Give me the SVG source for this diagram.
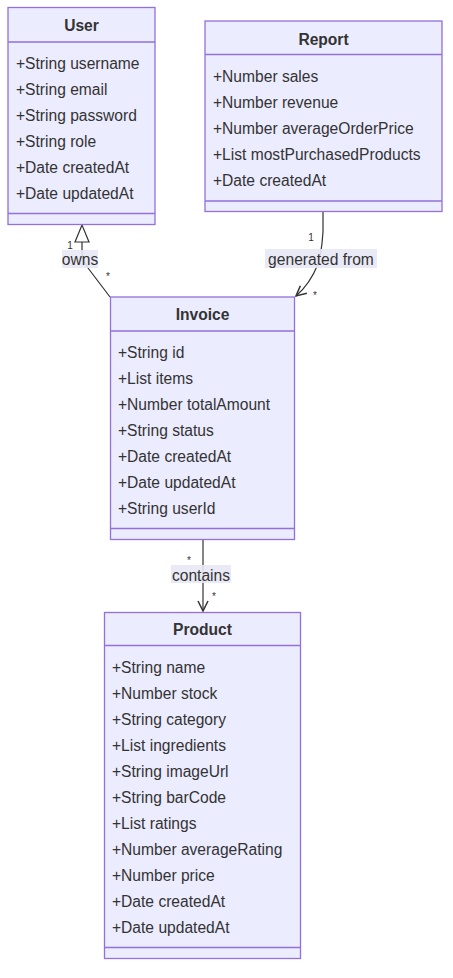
<svg xmlns="http://www.w3.org/2000/svg" width="453" height="978" viewBox="0 0 453 978">
<style>
.box{fill:#ECECFF;stroke:#9370DB;stroke-width:1.3}
.div{stroke:#9370DB;stroke-width:1.3}
.t{font-family:"Trebuchet MS","Liberation Sans",Arial,sans-serif;font-size:15.6px;fill:#333;dominant-baseline:central}
.title{font-weight:bold;text-anchor:middle}
.edge{fill:none;stroke:#333;stroke-width:1.2}
.lbg{fill:#e8e8f6;opacity:0.9}
.lbl{font-family:"Trebuchet MS","Liberation Sans",Arial,sans-serif;font-size:15.6px;fill:#333;text-anchor:middle;dominant-baseline:central}
.card{font-family:"Trebuchet MS","Liberation Sans",Arial,sans-serif;font-size:10px;fill:#333;text-anchor:middle;dominant-baseline:central}
</style>
<defs>
<marker id="open" viewBox="0 0 12 12" refX="11" refY="6" markerWidth="12" markerHeight="12" markerUnits="userSpaceOnUse" orient="auto">
<path d="M1,1 L11,6 L1,11" fill="none" stroke="#333" stroke-width="1.5"/>
</marker>
</defs>
<g id="connectors">
<path class="edge" d="M110,297 L88,268 Q82,260 82,250 L82,242"/>
<polygon points="82,225 75,242 89,242" fill="#fff" stroke="#333" stroke-width="1.2"/>
<path class="edge" d="M323,212 L323,232 Q322,250 318,264 Q310,284 296,296" marker-end="url(#open)"/>
<path class="edge" d="M203,539 L203,611" marker-end="url(#open)"/>
<rect class="lbg" x="62" y="250" width="36" height="18"/>
<text class="lbl" x="80" y="259">owns</text>
<text class="card" x="70" y="245">1</text>
<text class="card" x="108" y="276">*</text>
<rect class="lbg" x="265" y="249" width="112" height="19"/>
<text class="lbl" x="321" y="259">generated from</text>
<text class="card" x="311" y="237">1</text>
<text class="card" x="315" y="295">*</text>
<rect class="lbg" x="171" y="565" width="60" height="18"/>
<text class="lbl" x="201" y="575">contains</text>
<text class="card" x="189" y="560">*</text>
<text class="card" x="214" y="596">*</text>
</g>
<g id="User">
<rect class="box" x="8" y="7.5" width="147" height="217"/>
<line class="div" x1="8" y1="42" x2="155" y2="42"/>
<line class="div" x1="8" y1="213.5" x2="155" y2="213.5"/>
<text class="t title" x="81.5" y="25">User</text>
<text class="t" x="16" y="63">+String username</text>
<text class="t" x="16" y="89">+String email</text>
<text class="t" x="16" y="115">+String password</text>
<text class="t" x="16" y="141">+String role</text>
<text class="t" x="16" y="167">+Date createdAt</text>
<text class="t" x="16" y="193">+Date updatedAt</text>
</g>
<g id="Report">
<rect class="box" x="205" y="21" width="237" height="190.5"/>
<line class="div" x1="205" y1="54.5" x2="442" y2="54.5"/>
<line class="div" x1="205" y1="201" x2="442" y2="201"/>
<text class="t title" x="323.5" y="39">Report</text>
<text class="t" x="213" y="76">+Number sales</text>
<text class="t" x="213" y="102">+Number revenue</text>
<text class="t" x="213" y="128">+Number averageOrderPrice</text>
<text class="t" x="213" y="154">+List mostPurchasedProducts</text>
<text class="t" x="213" y="180">+Date createdAt</text>
</g>
<g id="Invoice">
<rect class="box" x="110.5" y="297" width="184" height="242.5"/>
<line class="div" x1="110.5" y1="331" x2="294.5" y2="331"/>
<line class="div" x1="110.5" y1="528.5" x2="294.5" y2="528.5"/>
<text class="t title" x="202.5" y="314">Invoice</text>
<text class="t" x="118" y="352">+String id</text>
<text class="t" x="118" y="378">+List items</text>
<text class="t" x="118" y="404">+Number totalAmount</text>
<text class="t" x="118" y="430">+String status</text>
<text class="t" x="118" y="456">+Date createdAt</text>
<text class="t" x="118" y="482">+Date updatedAt</text>
<text class="t" x="118" y="508">+String userId</text>
</g>
<g id="Product">
<rect class="box" x="104.5" y="612.5" width="196" height="346"/>
<line class="div" x1="104.5" y1="645.5" x2="300.5" y2="645.5"/>
<line class="div" x1="104.5" y1="947.5" x2="300.5" y2="947.5"/>
<text class="t title" x="202.5" y="629">Product</text>
<text class="t" x="112" y="667">+String name</text>
<text class="t" x="112" y="693">+Number stock</text>
<text class="t" x="112" y="719">+String category</text>
<text class="t" x="112" y="745">+List ingredients</text>
<text class="t" x="112" y="771">+String imageUrl</text>
<text class="t" x="112" y="797">+String barCode</text>
<text class="t" x="112" y="823">+List ratings</text>
<text class="t" x="112" y="849">+Number averageRating</text>
<text class="t" x="112" y="875">+Number price</text>
<text class="t" x="112" y="901">+Date createdAt</text>
<text class="t" x="112" y="927">+Date updatedAt</text>
</g>
</svg>
